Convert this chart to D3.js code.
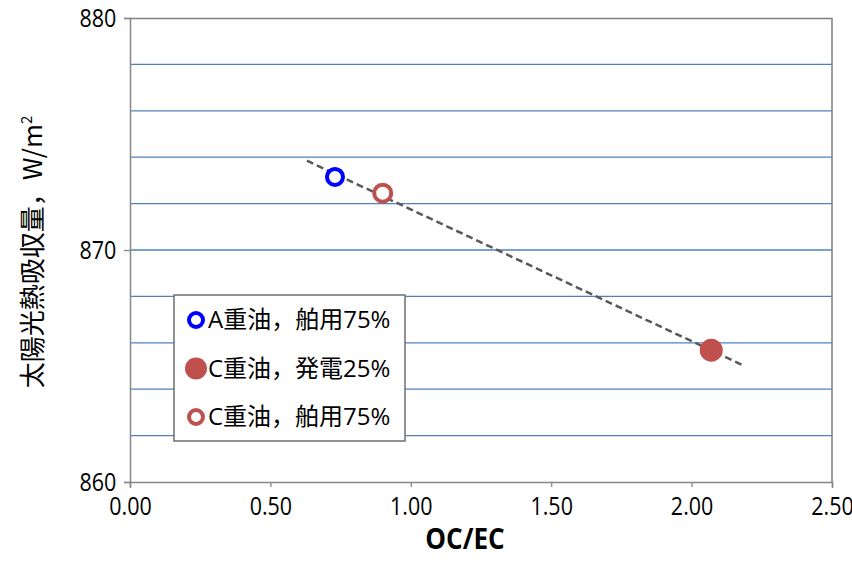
<!DOCTYPE html>
<html>
<head>
<meta charset="utf-8">
<script src="https://cdn.jsdelivr.net/npm/d3@7"></script>
<style>
  body { margin: 0; background: #fff; overflow: hidden; }
  text { font-family: "Open Sans", "Noto Sans", "Noto Sans CJK JP", sans-serif; }
</style>
</head>
<body>
<div id="chart"></div>
<script>
const seriesNames = ["A重油，舶用75%", "C重油，発電25%", "C重油，舶用75%"];
const ocec = [0.73, 2.07, 0.90];
const absorption = [873.15, 865.68, 872.45];
const trendX = [0.63, 2.18];
const trendY = [873.85, 865.05];
const xTicks = [0, 0.5, 1.0, 1.5, 2.0, 2.5];
const yTicks = [860, 870, 880];
const yGrid = [862, 864, 866, 868, 870, 872, 874, 876, 878];

const width = 852, height = 563;
const margin = { top: 18, right: 20, bottom: 81, left: 130 };
const innerWidth = width - margin.left - margin.right;
const innerHeight = height - margin.top - margin.bottom;

const svg = d3.select("#chart").append("svg")
    .attr("width", width)
    .attr("height", height)
    .style("display", "block");

const g = svg.append("g")
    .attr("transform", `translate(${margin.left},${margin.top})`);

const x = d3.scaleLinear().domain([0, 2.5]).range([0, innerWidth]);
const y = d3.scaleLinear().domain([860, 880]).range([innerHeight, 0]);

// gridlines
g.selectAll("line.grid")
    .data(yGrid)
    .join("line")
    .attr("class", "grid")
    .attr("x1", 0).attr("x2", innerWidth)
    .attr("y1", d => y(d)).attr("y2", d => y(d))
    .attr("stroke", "#4f81bd")
    .attr("stroke-width", 1.3);

// plot border top/right
g.append("path")
    .attr("d", `M0,0.5H${innerWidth}V${innerHeight}`)
    .attr("fill", "none")
    .attr("stroke", "#7f7f7f")
    .attr("stroke-width", 1.5);

// axes
const xAxis = g.append("g")
    .attr("transform", `translate(0,${innerHeight})`)
    .call(d3.axisBottom(x).tickValues(xTicks).tickFormat(d3.format(".2f")).tickSize(6).tickPadding(9));
const yAxis = g.append("g")
    .call(d3.axisLeft(y).tickValues(yTicks).tickSize(6).tickPadding(10));

[xAxis, yAxis].forEach(a => {
    a.select(".domain").attr("stroke", "#868686").attr("stroke-width", 1.5);
    a.selectAll(".tick line").attr("stroke", "#868686").attr("stroke-width", 1.3);
    a.selectAll(".tick text")
        .attr("fill", "#000")
        .attr("transform", "scale(0.86,1)")
        .style("font-size", "25px");
});
xAxis.selectAll(".tick line").attr("y1", 0).attr("y2", 5);

// trend line
g.append("line")
    .attr("x1", x(trendX[0])).attr("y1", y(trendY[0]))
    .attr("x2", x(trendX[1])).attr("y2", y(trendY[1]))
    .attr("stroke", "#595959")
    .attr("stroke-width", 2.5)
    .attr("stroke-dasharray", "7,4");

// points
const styles = [
    { r: 8, fill: "#fff", stroke: "#0000ff", sw: 4 },
    { r: 11.5, fill: "#c0504d", stroke: "#c0504d", sw: 0 },
    { r: 8.5, fill: "#fff", stroke: "#c0504d", sw: 4 }
];
g.selectAll("circle.pt")
    .data(ocec.map((v, i) => ({ x: v, y: absorption[i], s: styles[i] })))
    .join("circle")
    .attr("class", "pt")
    .attr("cx", d => x(d.x))
    .attr("cy", d => y(d.y))
    .attr("r", d => d.s.r)
    .attr("fill", d => d.s.fill)
    .attr("stroke", d => d.s.stroke)
    .attr("stroke-width", d => d.s.sw);

// axis titles
svg.append("text")
    .attr("transform", "translate(465,549) scale(0.9,1)")
    .attr("text-anchor", "middle")
    .style("font-size", "29px")
    .style("font-weight", "bold")
    .text("OC/EC");

const yl = svg.append("text")
    .attr("transform", `translate(42, ${margin.top + 234}) rotate(-90)`)
    .attr("text-anchor", "middle")
    .style("font-size", "26px")
    .style("font-family", "'Noto Sans CJK JP', sans-serif");
yl.append("tspan").text("太陽光熱吸収量，W/m");
yl.append("tspan").attr("dy", -10).style("font-size", "15px").text("2");

// legend
const legend = svg.append("g").attr("transform", "translate(174,295)");
legend.append("rect")
    .attr("width", 231).attr("height", 146)
    .attr("fill", "#fff")
    .attr("stroke", "#6d6d6d")
    .attr("stroke-width", 1.5);
const legendStyles = [
    { r: 7, fill: "#fff", stroke: "#0000ff", sw: 4 },
    { r: 11, fill: "#c0504d", stroke: "#c0504d", sw: 0 },
    { r: 7, fill: "#fff", stroke: "#c0504d", sw: 4 }
];
seriesNames.forEach((name, i) => {
    const row = legend.append("g").attr("transform", `translate(0, ${25 + i * 48.5})`);
    const s = legendStyles[i];
    row.append("circle")
        .attr("cx", 22).attr("cy", 0).attr("r", s.r)
        .attr("fill", s.fill).attr("stroke", s.stroke).attr("stroke-width", s.sw);
    row.append("text")
        .attr("x", 34).attr("y", 8)
        .style("font-size", "24px")
        .attr("fill", "#000")
        .text(name);
});
</script>
</body>
</html>
